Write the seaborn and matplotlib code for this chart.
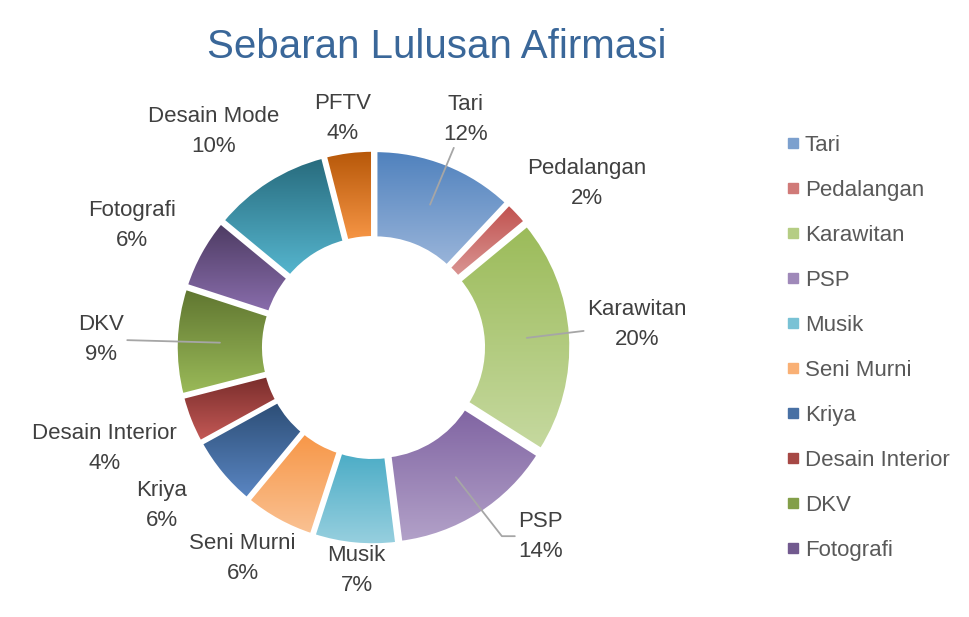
import numpy as np
import matplotlib
matplotlib.use("Agg")
import matplotlib.pyplot as plt
from matplotlib.colors import LinearSegmentedColormap
from matplotlib.lines import Line2D
import seaborn as sns

# data
categories = ["Tari", "Pedalangan", "Karawitan", "PSP", "Musik", "Seni Murni",
              "Kriya", "Desain Interior", "DKV", "Fotografi", "Desain Mode", "PFTV"]
percent = [12, 2, 20, 14, 7, 6, 6, 4, 9, 6, 10, 4]

# gradient colours per slice (top -> bottom)
top_colors = ["#4F81BD", "#C0504D", "#9BBB59", "#8064A2", "#4BACC6", "#F79646",
              "#2C4D75", "#772C2A", "#5F7530", "#4D3B62", "#276A7C", "#B65708"]
bottom_colors = ["#9AB5DA", "#DA9694", "#C6D9A0", "#B3A2C9", "#98D0DF", "#FAC294",
                 "#5B87C4", "#C65A57", "#9BBB59", "#8A6EAD", "#56B6CF", "#F79646"]

# label placement: distance from centre (in radii) and angular shift (deg) from slice middle
label_dist = [1.31, 1.43, 1.405, 1.34, 1.19, 1.32, 1.405, 1.53, 1.45, 1.44, 1.43, 1.23]
label_shift = [0.4, 5.7, -1.4, -9.1, -1.1, 3.0, 2.8, 1.1, -0.1, -2.0, -4.0, -0.4]
leader = {"Tari": None, "Karawitan": None, "PSP": "angle,angleA=0,angleB=128,rad=0", "DKV": None}

sns.set_theme(style="white")
plt.rcParams["font.family"] = ["Liberation Sans", "DejaVu Sans"]

W, H = 969, 617
fig = plt.figure(figsize=(W / 100, H / 100), dpi=100)
ax = fig.add_axes([0, 0, 1, 1])

cx, cy, R = 373.5, 269.5, 191.5
ring_w = 0.458
expl = 6.0  # pie explode is in data units (pixels here)
wedges, _ = ax.pie(percent, startangle=90, counterclock=False, center=(cx, cy),
                   radius=R, explode=[expl] * len(percent),
                   wedgeprops=dict(width=R * ring_w, edgecolor="white", linewidth=2.5),
                   frame=True)
ax.set_xlim(0, W)
ax.set_ylim(0, H)
ax.set_aspect("equal")
ax.axis("off")

grad = np.linspace(0, 1, 256).reshape(-1, 1)
for w, c_top, c_bot in zip(wedges, top_colors, bottom_colors):
    ext = w.get_path().get_extents()
    cmap = LinearSegmentedColormap.from_list("g", [c_top, c_bot])
    im = ax.imshow(grad, cmap=cmap, extent=[ext.x0, ext.x1, ext.y0, ext.y1],
                   origin="upper", aspect="auto", zorder=1)
    im.set_clip_path(w)
    w.set_facecolor("none")
    w.set_zorder(2)

text_color = "#404040"
Rl = 188  # radius the label distances were measured against
for w, name, p, d, s in zip(wedges, categories, percent, label_dist, label_shift):
    mid = np.deg2rad((w.theta1 + w.theta2) / 2)
    ang = mid - np.deg2rad(s)
    tx, ty = cx + d * Rl * np.cos(ang), cy + d * Rl * np.sin(ang)
    label = f"{name}\n{p}%"
    if name in leader:
        rm = R * (1 - ring_w / 2) + expl
        px, py = cx + rm * np.cos(mid), cy + rm * np.sin(mid)
        cs = leader[name] or "arc3"
        ax.annotate(label, xy=(px, py), xytext=(tx, ty), ha="center", va="center",
                    fontsize=16, color=text_color, linespacing=1.55,
                    arrowprops=dict(arrowstyle="-", color="#A6A6A6", lw=1.3,
                                    shrinkA=0, shrinkB=0, connectionstyle=cs))
    else:
        ax.text(tx, ty, label, ha="center", va="center", fontsize=16,
                color=text_color, linespacing=1.55)

ax.text(437, 559, "Sebaran Lulusan Afirmasi", ha="center", va="baseline",
        fontsize=29, color="#3A6799")

# legend: only the first ten entries fit
handles = [Line2D([], [], marker="s", linestyle="", markersize=6.5,
                  color=LinearSegmentedColormap.from_list("m", [t, b])(0.6))
           for t, b in zip(top_colors[:10], bottom_colors[:10])]
leg = ax.legend(handles, categories[:10], loc="upper left",
                bbox_to_anchor=(777 / W, 1 - 126 / H), frameon=False,
                fontsize=16, labelcolor="#595959", labelspacing=1.08,
                handlelength=0.6, handletextpad=0.25, borderaxespad=0)

fig.savefig("out.png", dpi=100, facecolor="white")
